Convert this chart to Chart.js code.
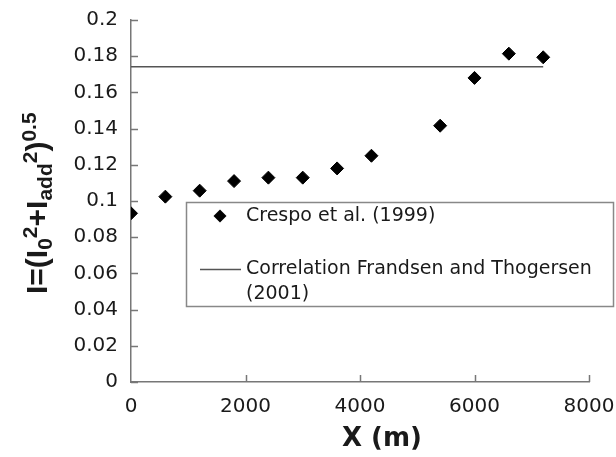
<!DOCTYPE html>
<html>
<head>
<meta charset="utf-8">
<script src="https://cdn.jsdelivr.net/npm/chart.js@4/dist/chart.umd.min.js"></script>
<style>
  html, body { margin: 0; padding: 0; background: #fff; }
  #wrap { position: relative; width: 616px; height: 457px; }
</style>
</head>
<body>
<div id="wrap"><canvas id="c" width="616" height="457"></canvas></div>
<script>
// distance (m) and turbulence intensity
var xValues = [0, 600, 1200, 1800, 2400, 3000, 3600, 4200, 5400, 6000, 6600, 7200];
var crespo = [0.0932, 0.1024, 0.1057, 0.111, 0.1129, 0.1129, 0.118, 0.125, 0.1416, 0.168, 0.1814, 0.1794];
var corrX = [0, 7200];
var corrY = [0.1742, 0.1742];
var yTicks = [0, 0.02, 0.04, 0.06, 0.08, 0.1, 0.12, 0.14, 0.16, 0.18, 0.2];
var xTicks = [0, 2000, 4000, 6000, 8000];
var legendLabels = ['Crespo et al. (1999)', 'Correlation Frandsen and Thogersen', '(2001)'];

var axisColor = '#777';
var textColor = '#1a1a1a';

var pts = xValues.map(function(x, i){ return {x: x, y: crespo[i]}; });
var line = corrX.map(function(x, i){ return {x: x, y: corrY[i]}; });

// inward tick marks, titles and the boxed legend
var extras = {
    id: 'extras',
    afterDraw: function(chart){
        var ctx = chart.ctx;
        var a = chart.chartArea;
        var xs = chart.scales.x, ys = chart.scales.y;
        ctx.save();
        ctx.strokeStyle = axisColor;
        ctx.lineWidth = 1.5;
        yTicks.forEach(function(v){
            var py = Math.round(ys.getPixelForValue(v)) + 0.5;
            ctx.beginPath(); ctx.moveTo(a.left, py); ctx.lineTo(a.left + 7, py); ctx.stroke();
        });
        xTicks.forEach(function(v){
            if (v === 0) return;
            var px = Math.round(xs.getPixelForValue(v)) + 0.5;
            ctx.beginPath(); ctx.moveTo(px, a.bottom); ctx.lineTo(px, a.bottom - 7); ctx.stroke();
        });

        // legend box
        ctx.fillStyle = '#fff';
        ctx.fillRect(186, 202, 428, 105);
        ctx.strokeStyle = '#888';
        ctx.lineWidth = 1.5;
        ctx.strokeRect(186.5, 202.5, 427, 104);
        ctx.fillStyle = '#000';
        ctx.beginPath();
        ctx.moveTo(220, 209.5); ctx.lineTo(226.5, 216); ctx.lineTo(220, 222.5); ctx.lineTo(213.5, 216);
        ctx.closePath(); ctx.fill();
        ctx.strokeStyle = '#555';
        ctx.beginPath(); ctx.moveTo(200, 269.5); ctx.lineTo(241, 269.5); ctx.stroke();
        ctx.fillStyle = textColor;
        ctx.font = '19px "DejaVu Sans"';
        ctx.textAlign = 'left';
        ctx.textBaseline = 'middle';
        ctx.fillText(legendLabels[0], 246, 216);
        ctx.fillText(legendLabels[1], 246, 269);
        ctx.fillText(legendLabels[2], 246, 294);

        // x title
        ctx.font = 'bold 26px "DejaVu Sans"';
        ctx.textAlign = 'center';
        ctx.textBaseline = 'alphabetic';
        ctx.fillText('X (m)', 382, 446);

        // y title with sub/superscripts
        ctx.translate(47, 294);
        ctx.rotate(-Math.PI / 2);
        ctx.textAlign = 'left';
        var big = 'bold 30px "Liberation Sans"', small = 'bold 21px "Liberation Sans"';
        var parts = [
            ['I=(I', big, 0], ['0', small, 5], ['2', small, -10],
            ['+I', big, 0], ['add', small, 5], ['2', small, -10],
            [')', big, 0], ['0.5', small, -11]
        ];
        var cx = 0;
        parts.forEach(function(p){
            ctx.font = p[1];
            ctx.fillText(p[0], cx, p[2]);
            cx += ctx.measureText(p[0]).width;
        });
        ctx.restore();
    }
};

var ctx = document.getElementById('c').getContext('2d');
var chart = new Chart(ctx, {
    type: 'scatter',
    data: {
        datasets: [{
            label: 'Correlation Frandsen and Thogersen (2001)',
            type: 'line',
            data: line,
            borderColor: '#555',
            borderWidth: 1.5,
            pointRadius: 0,
            fill: false
        }, {
            label: 'Crespo et al. (1999)',
            data: pts,
            backgroundColor: '#000',
            borderColor: '#000',
            pointStyle: 'rectRot',
            pointRadius: 6.5,
            pointHoverRadius: 6.5
        }]
    },
    options: {
        responsive: false,
        animation: false,
        layout: { padding: { left: 0, right: 27, top: 20, bottom: 0 } },
        plugins: {
            legend: { display: false },
            tooltip: { enabled: false }
        },
        scales: {
            x: {
                type: 'linear',
                min: 0,
                max: 8000,
                afterFit: function(s){ s.height = 75; s.paddingLeft = 0; s.paddingRight = 0; },
                afterBuildTicks: function(s){ s.ticks = xTicks.map(function(v){ return {value: v}; }); },
                grid: { display: true, drawOnChartArea: false, drawTicks: false },
                border: { display: true, color: axisColor, width: 1.5 },
                ticks: {
                    padding: 13,
                    color: textColor,
                    font: { family: 'DejaVu Sans', size: 20 },
                    maxRotation: 0,
                    callback: function(v){ return String(v); }
                }
            },
            y: {
                min: 0,
                max: 0.2,
                afterFit: function(s){ s.width = 131; s.paddingTop = 0; s.paddingBottom = 0; },
                afterBuildTicks: function(s){ s.ticks = yTicks.map(function(v){ return {value: v}; }); },
                grid: { display: true, drawOnChartArea: false, drawTicks: false },
                border: { display: true, color: axisColor, width: 1.5 },
                ticks: {
                    padding: 13,
                    color: textColor,
                    font: { family: 'DejaVu Sans', size: 20 },
                    callback: function(v){ return String(Math.round(v * 100) / 100); }
                }
            }
        }
    },
    plugins: [extras]
});
</script>
</body>
</html>
